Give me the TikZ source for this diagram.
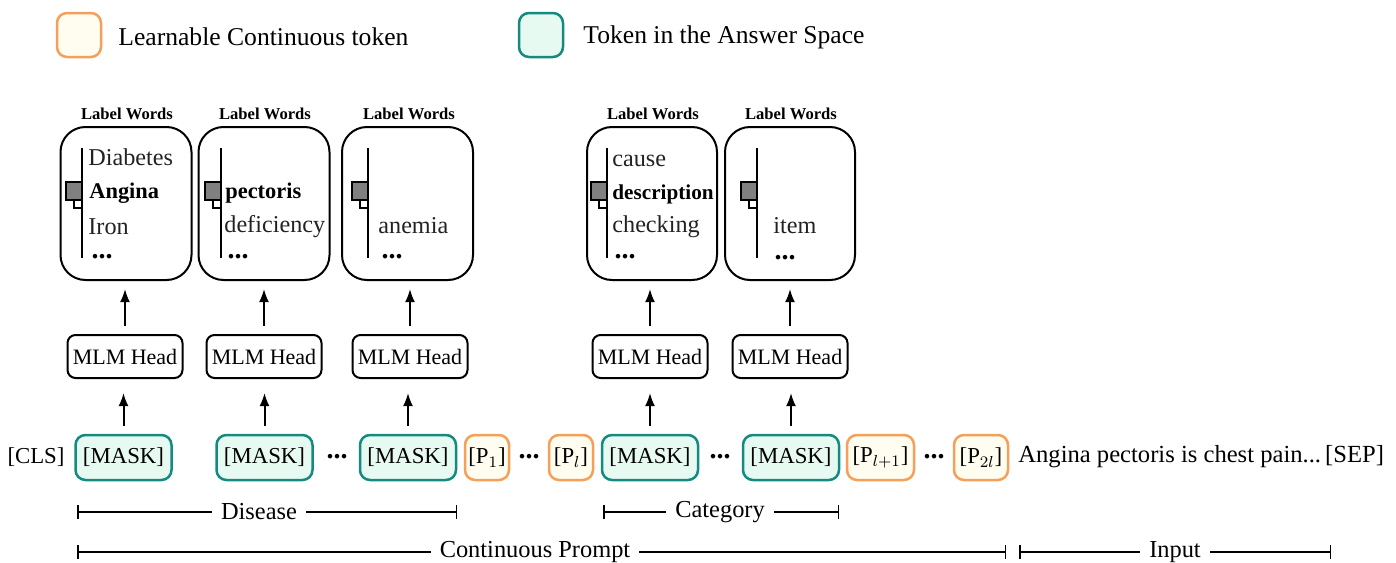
\documentclass[tikz,border=0pt]{standalone}
\usepackage{fontspec}
\setmainfont{Liberation Serif}
\usepackage{amsmath}
\usetikzlibrary{arrows.meta}
\definecolor{orgB}{HTML}{F5A05A}
\definecolor{orgF}{HTML}{FFFDEF}
\definecolor{tealB}{HTML}{148A80}
\definecolor{tealF}{HTML}{E6FAF1}
\definecolor{sqgray}{HTML}{808080}
\definecolor{txt}{HTML}{222222}
\newcommand\fsLeg{\fontsize{12.8pt}{15pt}\selectfont}
\newcommand\fsTok{\fontsize{11.4pt}{13pt}\selectfont}
\newcommand\fsMlm{\fontsize{11pt}{13pt}\selectfont}
\newcommand\fsWord{\fontsize{12.1pt}{14pt}\selectfont}
\newcommand\fsBold{\fontsize{11.2pt}{13pt}\selectfont\bfseries}
\newcommand\fsBoldS{\fontsize{10.6pt}{13pt}\selectfont\bfseries}
\newcommand\fsTitle{\fontsize{8.3pt}{10pt}\selectfont\bfseries}
\newcommand\fsDots{\fontsize{14pt}{16pt}\selectfont\bfseries}
\newcommand\fsSpan{\fontsize{12.2pt}{14pt}\selectfont}
\newcommand\fsSent{\fontsize{12.3pt}{14pt}\selectfont}
\newcommand\lwbar[1]{%
  \draw[line width=1pt, fill=sqgray] ({#1-16},182) rectangle (#1,200);
  \draw[line width=1pt, fill=white] ({#1-8},200) rectangle (#1,208);
  \draw[line width=1.25pt] (#1,148) -- (#1,258);
}
\begin{document}
\begin{tikzpicture}[x=0.5pt,y=-0.5pt,
 legbox/.style={rounded corners=5pt, line width=1.25pt, minimum width=22pt, minimum height=22pt, inner sep=0pt},
 ptok/.style={draw=orgB, fill=orgF, rounded corners=5pt, line width=1.25pt, minimum height=22.5pt, inner xsep=1pt, inner ysep=0pt, font=\fsTok},
 mtok/.style={draw=tealB, fill=tealF, rounded corners=5pt, line width=1.25pt, minimum height=22.5pt, minimum width=48pt, inner sep=0pt, font=\fsTok},
 plain/.style={inner sep=0pt, font=\fsTok},
 mlm/.style={draw, rounded corners=4pt, line width=1pt, minimum width=57.5pt, minimum height=21.5pt, inner sep=0pt, font=\fsMlm},
 lwbox/.style={draw, rounded corners=12.5pt, line width=1pt, minimum width=65.5pt, minimum height=76.5pt, inner sep=0pt},
 lwtitle/.style={font=\fsTitle, inner sep=0pt},
 word/.style={anchor=base west, inner sep=0pt, font=\fsWord, text=txt},
 bword/.style={anchor=base west, inner sep=0pt, font=\fsBold},
 dots/.style={inner sep=0pt, font=\fsDots},
 arr/.style={line width=1pt, -{Latex[length=6.5pt,width=5pt]}},
 span/.style={line width=0.75pt, {Bar[width=7pt]}-{Bar[width=7pt]}},
 spanlbl/.style={fill=white, inner xsep=4.5pt, inner ysep=1pt, font=\fsSpan},
 leg/.style={anchor=west, inner sep=0pt, font=\fsLeg},
]
\useasboundingbox (0,0) rectangle (1396,562);

% legend
\node[legbox, draw=orgB, fill=orgF] (legp) at (79,35) {};
\node[leg] (legpt) at (118,37) {Learnable Continuous token};
\node[legbox, draw=tealB, fill=tealF] (legm) at (541,35) {};
\node[leg] (legmt) at (583,37) {Token in the Answer Space};

% label word boxes
\node[lwbox] (lw1) at (126,203.5) {};
\node[lwbox] (lw2) at (264,203.5) {};
\node[lwbox] (lw3) at (407.5,203.5) {};
\node[lwbox, minimum width=65pt] (lw4) at (652,203.5) {};
\node[lwbox, minimum width=65pt] (lw5) at (790,203.5) {};
\node[lwtitle] (t1) at (127,114) {Label Words};
\node[lwtitle] (t2) at (265,114) {Label Words};
\node[lwtitle] (t3) at (409,114) {Label Words};
\node[lwtitle] (t4) at (653,114) {Label Words};
\node[lwtitle] (t5) at (791,114) {Label Words};

\lwbar{82}
\lwbar{221}
\lwbar{368}
\lwbar{607}
\lwbar{757}

\node[word] (w11) at (88,165) {Diabetes};
\node[bword] (w12) at (89,198) {Angina};
\node[word] (w13) at (88,234) {Iron};
\node[dots] (w14) at (102,257) {...};
\node[bword] (w21) at (225,198) {pectoris};
\node[word] (w22) at (224,232) {deficiency};
\node[dots] (w23) at (238,257) {...};
\node[word] (w31) at (378,233) {anemia};
\node[dots] (w32) at (392,257) {...};
\node[word] (w41) at (612,166) {cause};
\node[bword, font=\fsBoldS] (w42) at (612,199) {description};
\node[word] (w43) at (612,232) {checking};
\node[dots] (w44) at (625,257) {...};
\node[word] (w51) at (773,233) {item};
\node[dots] (w52) at (785,258) {...};

% MLM heads
\node[mlm] (m1) at (125,356.5) {MLM Head};
\node[mlm] (m2) at (264,356.5) {MLM Head};
\node[mlm] (m3) at (410,356.5) {MLM Head};
\node[mlm] (m4) at (650,356.5) {MLM Head};
\node[mlm] (m5) at (790,356.5) {MLM Head};

% token row
\node[plain] (cls) at (36,457) {[CLS]};
\node[mtok] (k1) at (123.5,457.5) {[MASK]};
\node[mtok] (k2) at (264.5,457.5) {[MASK]};
\node[dots] (d1) at (337,457) {...};
\node[mtok] (k3) at (408,457.5) {[MASK]};
\node[ptok, minimum width=22pt] (p1) at (487,457.5) {[P$_1$]};
\node[dots] (d2) at (529,457) {...};
\node[ptok, minimum width=22pt] (pl) at (571,457.5) {[P$_l$]};
\node[mtok] (k4) at (650,457.5) {[MASK]};
\node[dots] (d3) at (720,457) {...};
\node[mtok] (k5) at (791,457.5) {[MASK]};
\node[ptok, minimum width=33.5pt] (pl1) at (880.5,457.5) {[P$_{l+1}$]};
\node[dots] (d4) at (934,457) {...};
\node[ptok, minimum width=27pt] (p2l) at (981,457.5) {[P$_{2l}$]};
\node[anchor=west, inner sep=0pt, font=\fsSent] (sent) at (1018,457) {Angina pectoris is chest pain...\,[SEP]};

% arrows
\foreach \i in {1,...,5}{
  \draw[arr, shorten <=4pt, shorten >=4pt] (m\i.north) -- (m\i.north |- lw\i.south);
  \draw[arr, shorten <=4pt, shorten >=7pt] (k\i.north) -- (k\i.north |- m\i.south);
}

% spans
\coordinate (disL) at (77,512);
\coordinate (disR) at (457,512);
\coordinate (catL) at (603,512);
\coordinate (catR) at (839,512);
\coordinate (cpL) at (77,552);
\coordinate (cpR) at (1006,552);
\coordinate (inL) at (1019,552);
\coordinate (inR) at (1331,552);
\draw[span] (disL) -- (disR) node[spanlbl, pos=0.479] (disT) {Disease};
\draw[span] (catL) -- (catR) node[spanlbl, pos=0.496] (catT) {Category};
\draw[span] (cpL) -- (cpR) node[spanlbl, pos=0.493] (cpT) {Continuous Prompt};
\draw[span] (inL) -- (inR) node[spanlbl, pos=0.5] (inT) {Input};
\end{tikzpicture}
\end{document}
